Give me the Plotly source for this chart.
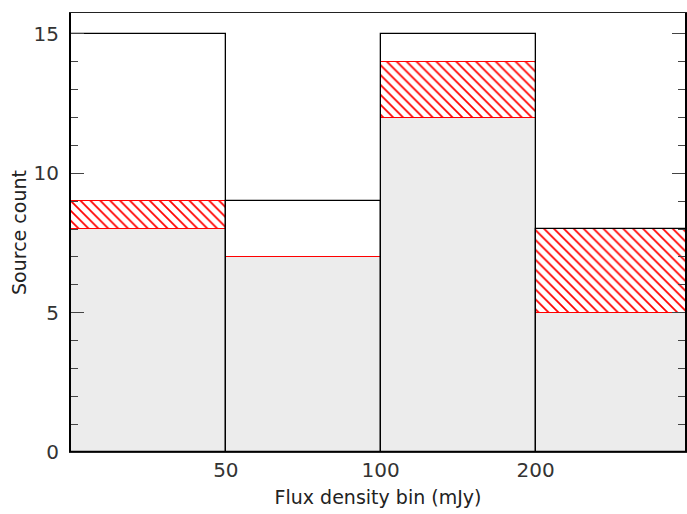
import plotly.graph_objects as go

bin_labels = ["50", "100", "200"]
bin_centers = [0.5, 1.5, 2.5, 3.5]
total_counts = [15, 9, 15, 8]
detected_counts = [8, 7, 12, 5]
upper_counts = [9, 7, 14, 8]

hatch_heights = [u - d for u, d in zip(upper_counts, detected_counts)]

fig = go.Figure()
fig.add_trace(go.Bar(
    x=bin_centers, y=detected_counts, width=1,
    marker=dict(color="#ececec", line=dict(color="red", width=1)),
    showlegend=False, hoverinfo="skip"))
fig.add_trace(go.Bar(
    x=bin_centers, y=hatch_heights, base=detected_counts, width=1,
    marker=dict(color="white", line=dict(color="red", width=1),
                pattern=dict(shape="\\", fgcolor="red", bgcolor="white",
                             fgopacity=1, size=7, solidity=0.25)),
    showlegend=False, hoverinfo="skip"))
fig.add_trace(go.Bar(
    x=bin_centers, y=total_counts, width=1,
    marker=dict(color="rgba(0,0,0,0)", line=dict(color="black", width=1.3)),
    showlegend=False, hoverinfo="skip"))

tick_font = dict(family="DejaVu Sans", size=20, color="#333")
title_font = dict(family="DejaVu Sans", size=19, color="#222")
fig.update_layout(
    width=687, height=514,
    margin=dict(l=71, r=0, t=13, b=62),
    barmode="overlay", bargap=0,
    plot_bgcolor="white", paper_bgcolor="white",
    font=tick_font,
    xaxis=dict(range=[0, 3.965], tickvals=[1, 2, 3], ticktext=bin_labels,
               ticks="", showgrid=False, zeroline=False,
               showline=True, linecolor="#222", linewidth=1, mirror=True,
               ticklabelstandoff=0,
               title=dict(text="Flux density bin (mJy)", standoff=9, font=title_font),
               tickfont=tick_font),
    yaxis=dict(range=[0, 15.75], tickvals=[0, 5, 10, 15], ticks="inside",
               ticklen=13, tickcolor="#444", tickwidth=1,
               minor=dict(dtick=1, ticks="inside", ticklen=7, tickcolor="#444"),
               showgrid=False, zeroline=False,
               showline=True, linecolor="black", linewidth=2, mirror="ticks",
               ticklabelstandoff=6,
               title=dict(text="Source count", standoff=2, font=title_font),
               tickfont=tick_font),
)
fig.write_html(
    "out.html",
    config={"displayModeBar": False},
    post_script="document.body.style.margin='0';"
                "document.documentElement.style.overflow='hidden';",
)
